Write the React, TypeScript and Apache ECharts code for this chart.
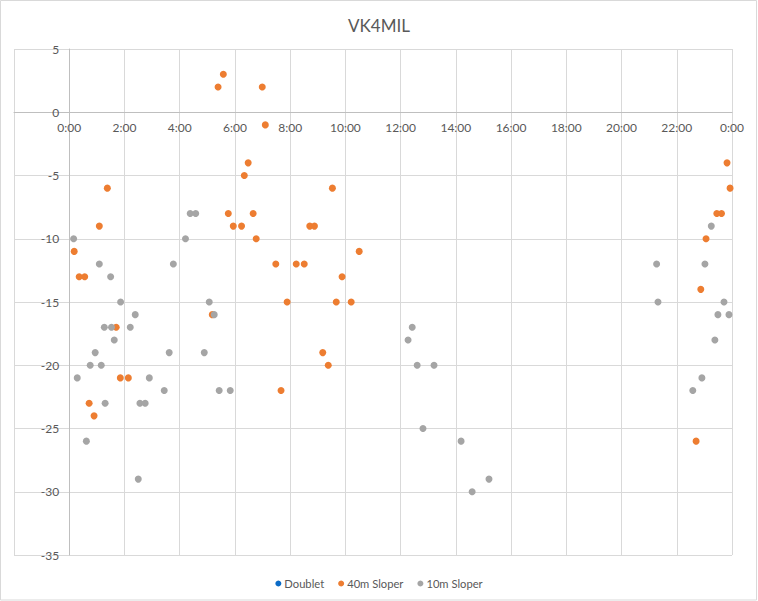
import React, { useEffect, useRef } from "react";
import * as echarts from "echarts";

const title = "VK4MIL";
const seriesNames = ["Doublet", "40m Sloper", "10m Sloper"];
const seriesColors = ["#0B6BC7", "#ED7D31", "#A5A5A5"];

// x = hour of day (decimal), y = signal report
const doublet: number[][] = [];

const sloper40m: number[][] = [
  [0.18, -11], [0.36, -13], [0.56, -13], [0.72, -23], [0.9, -24], [1.09, -9],
  [1.38, -6], [1.7, -17], [1.85, -21], [2.14, -21], [5.18, -16], [5.39, 2],
  [5.58, 3], [5.76, -8], [5.94, -9], [6.24, -9], [6.34, -5], [6.48, -4],
  [6.66, -8], [6.77, -10], [6.99, 2], [7.1, -1], [7.48, -12], [7.67, -22],
  [7.89, -15], [8.22, -12], [8.51, -12], [8.71, -9], [8.88, -9], [9.18, -19],
  [9.38, -20], [9.53, -6], [9.67, -15], [9.88, -13], [10.21, -15], [10.5, -11],
  [22.7, -26], [22.87, -14], [23.06, -10], [23.45, -8], [23.62, -8],
  [23.82, -4], [23.93, -6],
];

const sloper10m: number[][] = [
  [0.16, -10], [0.29, -21], [0.62, -26], [0.76, -20], [0.94, -19], [1.09, -12],
  [1.16, -20], [1.27, -17], [1.3, -23], [1.5, -13], [1.53, -17], [1.63, -18],
  [1.86, -15], [2.21, -17], [2.39, -16], [2.5, -29], [2.56, -23], [2.75, -23],
  [2.9, -21], [3.44, -22], [3.62, -19], [3.77, -12], [4.21, -10], [4.38, -8],
  [4.58, -8], [4.89, -19], [5.07, -15], [5.25, -16], [5.43, -22], [5.83, -22],
  [12.27, -18], [12.42, -17], [12.6, -20], [12.81, -25], [13.21, -20],
  [14.19, -26], [14.59, -30], [15.2, -29], [21.27, -12], [21.32, -15],
  [22.58, -22], [22.91, -21], [23.02, -12], [23.25, -9], [23.38, -18],
  [23.49, -16], [23.71, -15], [23.89, -16],
];

const xMin = -2;
const xMax = 24;
const xStep = 2;
const yMin = -35;
const yMax = 5;
const yStep = 5;

const W = 758;
const H = 601;
const GRID = { left: 14, right: 26, top: 49, bottom: 46 };

const FONT = "Lato, 'Open Sans', sans-serif";
const TEXT = "#595959";

export default function App() {
  const ref = useRef<HTMLDivElement>(null);
  useEffect(() => {
    if (!ref.current) return;
    const chart = echarts.init(ref.current, undefined, { renderer: "svg" });
    const allData = [doublet, sloper40m, sloper10m];
    // place axes where the other axis is zero (Excel "axis crosses at 0")
    const gridW = W - GRID.left - GRID.right;
    const gridH = H - GRID.top - GRID.bottom;
    const yAxisOffset = -gridW * (0 - xMin) / (xMax - xMin);
    const xAxisOffset = -gridH * (0 - yMin) / (yMax - yMin);
    chart.setOption({
      animation: false,
      backgroundColor: "#ffffff",
      textStyle: { fontFamily: FONT },
      title: {
        text: title,
        left: "center",
        top: 12,
        textStyle: { fontFamily: FONT, fontSize: 17, fontWeight: "normal", color: TEXT },
      },
      graphic: [
        {
          type: "rect",
          shape: { x: 0.5, y: 0.5, width: 756, height: 599.5 },
          style: { fill: "none", stroke: "#D9D9D9", lineWidth: 1 },
          silent: true,
        },
      ],
      legend: {
        top: 573,
        left: "center",
        icon: "circle",
        itemWidth: 6,
        itemHeight: 6,
        itemGap: 14,
        textStyle: { fontFamily: FONT, fontSize: 11.2, color: TEXT, padding: [0, 0, 0, -2] },
        data: seriesNames,
      },
      grid: { ...GRID, outerBoundsMode: "none", containLabel: false },
      xAxis: {
        type: "value",
        position: "bottom",
        offset: xAxisOffset,
        min: xMin,
        max: xMax,
        interval: xStep,
        axisLine: { show: true, onZero: false, lineStyle: { color: "#BFBFBF", width: 1 } },
        axisTick: { show: false },
        splitLine: { show: true, lineStyle: { color: "#D9D9D9", width: 1 } },
        axisLabel: {
          color: TEXT,
          fontFamily: FONT,
          fontSize: 12,
          margin: 9,
          showMinLabel: true,
          showMaxLabel: true,
          formatter: (v: number) => (v < 0 ? "" : `${v % 24}:00`),
        },
      },
      yAxis: {
        type: "value",
        position: "left",
        offset: yAxisOffset,
        min: yMin,
        max: yMax,
        interval: yStep,
        axisLine: { show: true, onZero: false, lineStyle: { color: "#BFBFBF", width: 1 } },
        axisTick: { show: false },
        splitLine: { show: true, lineStyle: { color: "#D9D9D9", width: 1 } },
        axisLabel: { color: TEXT, fontFamily: FONT, fontSize: 12, margin: 10 },
      },
      series: seriesNames.map((name, i) => ({
        name,
        type: "scatter",
        symbol: "circle",
        symbolSize: 7,
        itemStyle: { color: seriesColors[i], opacity: 1 },
        data: allData[i],
      })),
    });
    return () => chart.dispose();
  }, []);
  return (
    <div
      ref={ref}
      style={{ position: "absolute", left: 0, top: 0, width: W, height: H }}
    />
  );
}
